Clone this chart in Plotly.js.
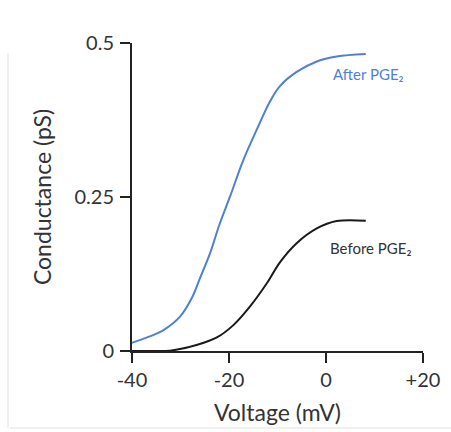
<!DOCTYPE html>
<html>
<head>
<meta charset="utf-8">
<script src="https://cdn.plot.ly/plotly-3.0.1.min.js"></script>
<style>html,body{margin:0;padding:0;background:#fff;}#chart{width:451px;height:432px;}</style>
</head>
<body>
<div id="chart"></div>
<script>
const afterV = [-40, -37, -33.5, -30.1, -27.7, -26, -23.9, -21.9, -19.8, -17.05, -14.3, -11.55, -9.5, -6.05, -1.9, 2.2, 8.2];
const afterG = [0.0135, 0.0216, 0.034, 0.0557, 0.0855, 0.118, 0.159, 0.207, 0.2505, 0.310, 0.359, 0.405, 0.430, 0.453, 0.470, 0.478, 0.482];
const beforeV = [-40, -36, -32.2, -26.7, -22.5, -19.1, -15.7, -12.2, -9.5, -6.05, -1.9, 2.2, 8.2];
const beforeG = [0, 0, 0.0005, 0.0097, 0.022, 0.042, 0.072, 0.110, 0.144, 0.175, 0.199, 0.211, 0.2115];
const xTickVals = [-40, -20, 0, 20];
const xTickText = ['-40', '-20', '0', '+20'];
const yTickVals = [0, 0.25, 0.5];
const yTickText = ['0', '0.25', '0.5'];
const labelAfter = 'After PGE₂';
const labelBefore = 'Before PGE₂';

const font = 'Lato, Open Sans, sans-serif';
const traces = [
  {x: afterV, y: afterG, mode: 'lines', line: {color: '#4f7fd6', width: 2, shape: 'spline', smoothing: 1}, cliponaxis: false, hoverinfo: 'skip'},
  {x: beforeV, y: beforeG, mode: 'lines', line: {color: '#1a1a1a', width: 2, shape: 'spline', smoothing: 1}, cliponaxis: false, hoverinfo: 'skip'}
];
const layout = {
  width: 451, height: 432,
  margin: {l: 132, r: 28, t: 43, b: 81},
  paper_bgcolor: '#ffffff', plot_bgcolor: '#ffffff',
  showlegend: false,
  font: {family: font, color: '#333'},
  xaxis: {
    range: [-40, 20], tickvals: xTickVals, ticktext: xTickText,
    showgrid: false, zeroline: false, showline: true, linecolor: '#222', linewidth: 2,
    ticks: 'outside', ticklen: 10, tickwidth: 2, tickcolor: '#222',
    tickfont: {size: 20, color: '#333', family: font},
    title: {text: 'Voltage (mV)', font: {size: 23, color: '#333', family: font}, standoff: 15},
    fixedrange: true
  },
  yaxis: {
    range: [0, 0.5], tickvals: yTickVals, ticktext: yTickText,
    showgrid: false, zeroline: false, showline: true, linecolor: '#222', linewidth: 2,
    ticks: 'outside', ticklen: 10, tickwidth: 2, tickcolor: '#222',
    tickfont: {size: 20, color: '#333', family: font},
    ticklabelstandoff: 2,
    title: {text: 'Conductance (pS)', font: {size: 23, color: '#333', family: font}, standoff: 16},
    fixedrange: true
  },
  annotations: [
    {x: 1.0, y: 0.45, xref: 'x', yref: 'y', text: labelAfter, showarrow: false, xanchor: 'left', yanchor: 'middle', font: {size: 15, color: '#4f7fd6', family: font}},
    {x: 0.4, y: 0.167, xref: 'x', yref: 'y', text: labelBefore, showarrow: false, xanchor: 'left', yanchor: 'middle', font: {size: 15, color: '#333', family: font}}
  ],
  shapes: [
    {type: 'line', xref: 'paper', yref: 'paper', x0: -124/291, x1: -124/291, y0: -77/308, y1: 298/308, line: {color: '#f0f0f0', width: 2}, layer: 'below'},
    {type: 'line', xref: 'paper', yref: 'paper', x0: -122/291, x1: 319/291, y0: -77/308, y1: -77/308, line: {color: '#f0f0f0', width: 2}, layer: 'below'}
  ]
};
Plotly.newPlot('chart', traces, layout, {displayModeBar: false, staticPlot: true});
</script>
</body>
</html>
